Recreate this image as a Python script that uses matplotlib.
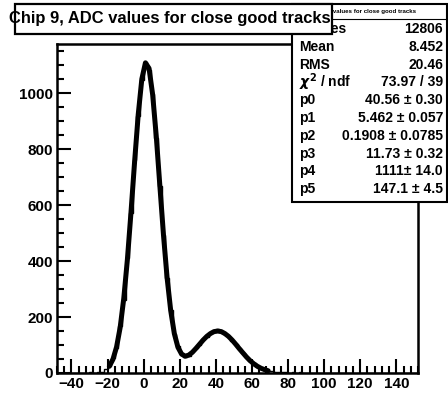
import matplotlib
matplotlib.use("Agg")
from matplotlib import pyplot as plt
from matplotlib.patches import Rectangle
import numpy as np

plt.rcParams["font.family"] = ["Liberation Sans", "DejaVu Sans"]
plt.rcParams["font.weight"] = "bold"

# histogram: 100 bins of width 2 from -48 to 152
bin_edges = np.arange(-48, 153, 2)
counts = [0, 0, 0, 0, 1, 0, 0, 1, 1,
          2, 1, 3, 4, 13, 26, 52, 90, 168, 262, 410, 571, 762, 918, 1048,
          1112, 1082, 998, 840, 668, 492, 338, 226, 139, 95, 66, 56, 62, 77,
          90, 101, 121, 129, 143, 146, 156, 147, 140, 133, 116, 104, 88, 70,
          58, 43, 34, 23, 18, 11, 7, 6, 3, 4, 2, 3, 1, 2, 1, 2, 1, 0, 1, 0, 1,
          0, 0, 0, 0, 0, 0, 0, 0, 0, 0, 0, 0, 0, 0, 0, 0, 0, 0, 0, 0, 0, 0, 0,
          0, 0, 0, 0]

# fit curve
fit_x = list(range(-19, 70, 2))
fit_y = [24, 49, 93, 163, 267, 406, 575, 756, 924, 1051, 1109, 1089, 995,
         846, 668, 493, 340, 223, 141, 92, 68, 60, 64, 74, 88, 103, 118, 131,
         141, 148, 150, 148, 141, 131, 118, 103, 87, 72, 57, 44, 33, 24, 17,
         12, 8]

title = "Chip 9, ADC values for close good tracks"
stat_names = ["Entries", "Mean", "RMS", r"$\chi^{2}$ / ndf", "p0", "p1", "p2", "p3", "p4", "p5"]
stat_values = ["12806", "8.452", "20.46", "73.97 / 39", "40.56 ± 0.30", "5.462 ± 0.057",
               "0.1908 ± 0.0785", "11.73 ± 0.32", "1111± 14.0", "147.1 ± 4.5"]

W, H = 448, 393
fig = plt.figure(figsize=(W / 100, H / 100), dpi=100)

def fx(px):
    return px / W

def fy(py):
    return 1 - py / H

ax = fig.add_axes([fx(57), fy(373), fx(418) - fx(57), fy(43.5) - fy(373)])
ax.stairs(counts, bin_edges, color="black", lw=1.0)
ax.plot(fit_x, fit_y, color="black", lw=3.6, solid_capstyle="round")
ax.set_xlim(-48, 152)
ax.set_ylim(0, 1178)
ax.set_xticks(range(-40, 141, 20))
ax.set_xticks(range(-48, 153, 4), minor=True)
ax.set_yticks(range(0, 1001, 200))
ax.set_yticks(range(0, 1178, 50), minor=True)
ax.tick_params(which="both", direction="in", width=1.5, labelsize=11, pad=3)
ax.tick_params(which="major", length=10)
ax.tick_params(which="minor", length=5)
ax.tick_params(axis="y", which="both", right=False)
for lab in ax.get_xticklabels() + ax.get_yticklabels():
    lab.set_fontweight("bold")
for s in ax.spines.values():
    s.set_linewidth(1.8)

# stats box
sx0, sx1, sy0, sy1 = 292, 447, 4, 202
fig.patches.append(Rectangle((fx(sx0), fy(sy1)), fx(sx1) - fx(sx0), fy(sy0) - fy(sy1),
                             transform=fig.transFigure, facecolor="white",
                             edgecolor="black", lw=1.5, zorder=5))
fig.lines.append(plt.Line2D([fx(sx0), fx(sx1)], [fy(19), fy(19)],
                            transform=fig.transFigure, color="black", lw=0.8, zorder=6))
fig.text(fx(367), fy(11.5), "ADC values for close good tracks", fontsize=4.4,
         ha="center", va="center", zorder=6)
row0, step = 29, 17.8
for i, (n, v) in enumerate(zip(stat_names, stat_values)):
    y = fy(row0 + i * step)
    fig.text(fx(299), y, n, fontsize=10, ha="left", va="center", zorder=6)
    fig.text(fx(443), y, v, fontsize=10, ha="right", va="center", zorder=6)

# title box drawn over stats box
fig.patches.append(Rectangle((fx(15), fy(33.5)), fx(332) - fx(15), fy(4) - fy(33.5),
                             transform=fig.transFigure, facecolor="white",
                             edgecolor="black", lw=1.6, zorder=7))
fig.text(fx(170), fy(19), title, fontsize=11.9, ha="center", va="center", zorder=8)

fig.savefig("out.png", dpi=100)
